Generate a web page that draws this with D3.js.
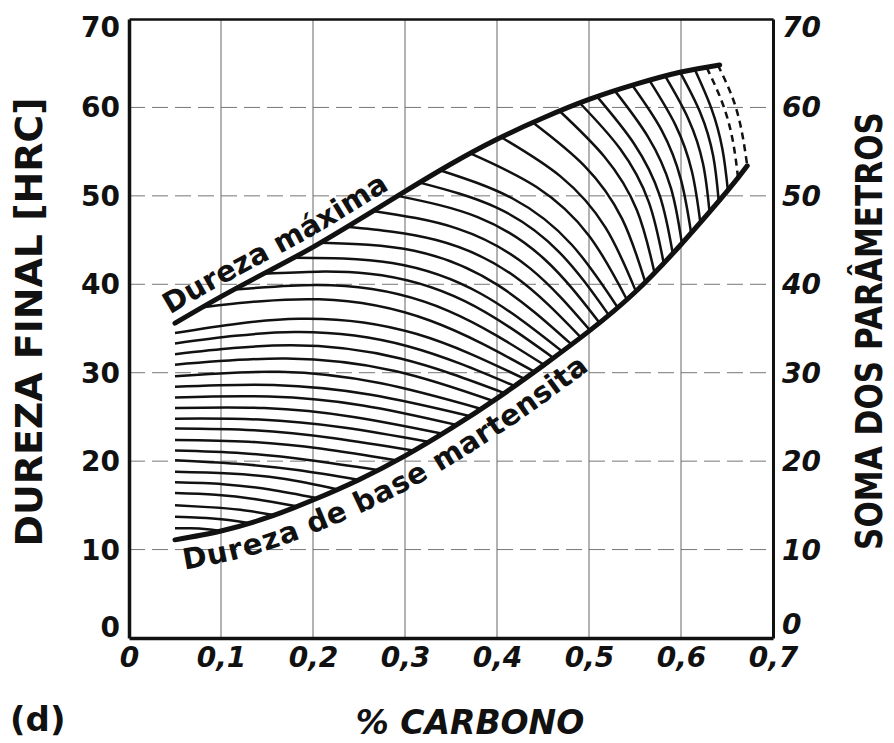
<!DOCTYPE html>
<html>
<head>
<meta charset="utf-8">
<script src="https://cdn.jsdelivr.net/npm/d3@7"></script>
<style>
  body { margin: 0; background: #fff; }
  svg text { font-family: "DejaVu Sans", sans-serif; font-weight: bold; fill: #111; }
</style>
</head>
<body>
<svg id="chart" width="894" height="743"></svg>
<script>
// tick values and labels
var xTicks = [0, 0.1, 0.2, 0.3, 0.4, 0.5, 0.6, 0.7];
var xTickLabels = ["0", "0,1", "0,2", "0,3", "0,4", "0,5", "0,6", "0,7"];
var yTicks = [0, 10, 20, 30, 40, 50, 60, 70];

// "Dureza máxima" boundary
var maxX = [0.05, 0.1, 0.15, 0.2, 0.25, 0.3, 0.35, 0.4, 0.45, 0.5, 0.55, 0.6, 0.642];
var maxY = [35.6, 38.6, 41.4, 44.2, 47.3, 50.5, 53.6, 56.4, 58.8, 60.9, 62.6, 64.0, 64.8];

// "Dureza de base martensita" boundary
var baseX = [0.05, 0.1, 0.15, 0.2, 0.25, 0.3, 0.35, 0.4, 0.45, 0.5, 0.55, 0.6, 0.65, 0.672];
var baseY = [11.1, 12.1, 13.6, 15.6, 17.9, 20.6, 23.7, 27.1, 30.8, 34.7, 39.1, 44.5, 50.5, 53.4];

// curves that start at the left edge (0,05 % C)
var leftCurves = [
  [[0.05, 12.4], [0.067, 12.4], [0.085, 12.3], [0.102, 12.1]],
  [[0.05, 13.7], [0.077, 13.6], [0.103, 13.4], [0.130, 13.0]],
  [[0.05, 15.0], [0.086, 14.8], [0.121, 14.5], [0.157, 13.9]],
  [[0.05, 16.4], [0.094, 16.2], [0.138, 15.7], [0.182, 14.9]],
  [[0.05, 17.6], [0.102, 17.4], [0.153, 16.8], [0.205, 15.8]],
  [[0.05, 18.8], [0.109, 18.6], [0.168, 18.0], [0.227, 16.8]],
  [[0.05, 20.1], [0.117, 19.7], [0.183, 19.0], [0.249, 17.9]],
  [[0.05, 21.2], [0.123, 20.9], [0.197, 20.1], [0.270, 19.0]],
  [[0.05, 22.4], [0.130, 22.2], [0.210, 21.4], [0.290, 20.1]],
  [[0.05, 23.7], [0.136, 23.5], [0.223, 22.6], [0.309, 21.2]],
  [[0.05, 24.8], [0.142, 24.7], [0.233, 23.8], [0.325, 22.2]],
  [[0.05, 26.0], [0.147, 26.0], [0.244, 25.0], [0.341, 23.1]],
  [[0.05, 27.2], [0.152, 27.3], [0.254, 26.3], [0.356, 24.1]],
  [[0.05, 28.4], [0.157, 28.6], [0.263, 27.5], [0.370, 25.1]],
  [[0.05, 29.6], [0.163, 30.1], [0.274, 28.8], [0.383, 25.9]],
  [[0.05, 30.9], [0.171, 31.6], [0.289, 30.2], [0.396, 26.8]],
  [[0.05, 32.1], [0.176, 33.1], [0.295, 31.6], [0.408, 27.7]],
  [[0.05, 33.3], [0.180, 34.6], [0.303, 33.0], [0.419, 28.5]],
  [[0.05, 34.5], [0.185, 36.1], [0.312, 34.4], [0.430, 29.3]]
];

// curves that start on the "Dureza máxima" line
var topCurves = [
  [[0.080, 37.4], [0.207, 38.3], [0.327, 35.9], [0.441, 30.1]],
  [[0.115, 39.4], [0.235, 39.8], [0.347, 37.0], [0.451, 30.9]],
  [[0.147, 41.2], [0.261, 41.2], [0.365, 38.1], [0.461, 31.7]],
  [[0.178, 43.0], [0.286, 42.4], [0.383, 38.9], [0.471, 32.4]],
  [[0.208, 44.7], [0.310, 43.8], [0.401, 39.9], [0.481, 33.2]],
  [[0.237, 46.5], [0.334, 45.0], [0.419, 40.9], [0.491, 34.0]],
  [[0.265, 48.3], [0.357, 46.3], [0.436, 41.8], [0.501, 34.8]],
  [[0.292, 50.0], [0.379, 47.6], [0.452, 42.8], [0.511, 35.7]],
  [[0.316, 51.5], [0.399, 48.7], [0.467, 43.7], [0.521, 36.6]],
  [[0.338, 52.9], [0.417, 49.7], [0.481, 44.5], [0.531, 37.4]],
  [[0.371, 54.8], [0.443, 51.0], [0.500, 45.5], [0.541, 38.3]],
  [[0.405, 56.6], [0.469, 52.2], [0.518, 46.4], [0.551, 39.2]],
  [[0.439, 58.3], [0.495, 53.4], [0.536, 47.4], [0.561, 40.3]],
  [[0.468, 59.6], [0.517, 54.4], [0.552, 48.4], [0.571, 41.4]],
  [[0.490, 60.5], [0.534, 55.3], [0.565, 49.3], [0.581, 42.5]],
  [[0.509, 61.2], [0.549, 55.9], [0.577, 50.0], [0.591, 43.5]],
  [[0.528, 61.9], [0.564, 56.7], [0.589, 50.9], [0.601, 44.6]],
  [[0.547, 62.5], [0.579, 57.4], [0.600, 51.8], [0.611, 45.8]],
  [[0.566, 63.0], [0.594, 58.0], [0.612, 52.7], [0.621, 47.0]],
  [[0.583, 63.5], [0.608, 58.7], [0.624, 53.6], [0.631, 48.2]],
  [[0.599, 64.0], [0.621, 59.4], [0.635, 54.5], [0.641, 49.4]],
  [[0.615, 64.3], [0.633, 59.9], [0.645, 55.3], [0.651, 50.6]],
  [[0.628, 64.5], [0.645, 60.5], [0.656, 56.4], [0.662, 52.1]],
  [[0.640, 64.8], [0.656, 61.1], [0.666, 57.3], [0.672, 53.4]]
];
var dashedFrom = 22; // last two top curves are dashed

var svg = d3.select("#chart");

var x = d3.scaleLinear().domain([0, 0.7]).range([129, 773]);
var y = d3.scaleLinear().domain([0, 70]).range([638, 19]);

// grid
svg.append("g").selectAll("line")
  .data(xTicks.slice(1, -1))
  .enter().append("line")
  .attr("x1", d => x(d)).attr("x2", d => x(d))
  .attr("y1", y(0)).attr("y2", y(70))
  .attr("stroke", "#555").attr("stroke-width", 0.9);

svg.append("g").selectAll("line")
  .data(yTicks.slice(1, -1))
  .enter().append("line")
  .attr("x1", x(0)).attr("x2", x(0.7))
  .attr("y1", d => y(d)).attr("y2", d => y(d))
  .attr("stroke", "#666").attr("stroke-width", 0.9)
  .attr("stroke-dasharray", "16,7");

// axes
var leftAxis = d3.axisLeft(y).tickValues(yTicks).tickSize(0).tickPadding(9);
var rightAxis = d3.axisRight(y).tickValues(yTicks).tickSize(0).tickPadding(9);
var bottomAxis = d3.axisBottom(x).tickValues(xTicks).tickSize(0).tickPadding(9)
  .tickFormat((d, i) => xTickLabels[i]);
var topAxis = d3.axisTop(x).tickValues([]).tickSize(0);

var gl = svg.append("g").attr("transform", `translate(${x(0)},0)`).call(leftAxis);
var gr = svg.append("g").attr("transform", `translate(${x(0.7)},0)`).call(rightAxis);
var gb = svg.append("g").attr("transform", `translate(0,${y(0)})`).call(bottomAxis);
var gt = svg.append("g").attr("transform", `translate(0,${y(70)})`).call(topAxis);

[gl, gr, gb, gt].forEach(function (g) {
  g.attr("font-family", null).attr("font-size", null);
  g.select(".domain").attr("stroke", "#111");
});
gl.select(".domain").attr("stroke-width", 3.5);
gb.select(".domain").attr("stroke-width", 3.5);
gr.select(".domain").attr("stroke-width", 3);
gt.select(".domain").attr("stroke-width", 2.5);

gl.selectAll("text").style("font-size", "28px").attr("fill", "#111")
  .attr("dy", d => d == 0 ? "-0.05em" : d == 70 ? "0.62em" : "0.34em");
gr.selectAll("text").style("font-size", "28px").style("font-style", "italic").attr("fill", "#111")
  .attr("dy", d => d == 0 ? "-0.15em" : d == 70 ? "0.62em" : "0.34em");
gb.selectAll("text").style("font-size", "28px").style("font-style", "italic").attr("fill", "#111");

// boundaries
var line = d3.line().x(d => x(d[0])).y(d => y(d[1])).curve(d3.curveNatural);
var maxPts = maxX.map((v, i) => [v, maxY[i]]);
var basePts = baseX.map((v, i) => [v, baseY[i]]);

// family of curves
var curves = leftCurves.concat(topCurves);
svg.append("g").selectAll("path")
  .data(curves)
  .enter().append("path")
  .attr("d", line)
  .attr("fill", "none")
  .attr("stroke", "#111")
  .attr("stroke-width", 2.5)
  .attr("stroke-dasharray", (d, i) => i >= leftCurves.length + dashedFrom ? "7,5" : null);

svg.append("path").attr("id", "maxPath").attr("d", line(maxPts))
  .attr("fill", "none").attr("stroke", "#111").attr("stroke-width", 5).attr("stroke-linecap", "round");
svg.append("path").attr("id", "basePath").attr("d", line(basePts))
  .attr("fill", "none").attr("stroke", "#111").attr("stroke-width", 5).attr("stroke-linecap", "round");

// curve labels
svg.append("text").style("font-size", "29px")
  .append("textPath").attr("href", "#maxPath").attr("startOffset", 0)
  .append("tspan").attr("dy", -10).text("Dureza máxima");

svg.append("text").style("font-size", "29px")
  .append("textPath").attr("href", "#basePath").attr("startOffset", 4)
  .append("tspan").attr("dy", 31).text("Dureza de base martensita");

// axis titles
svg.append("text")
  .attr("transform", "translate(42,322) rotate(-90)")
  .attr("text-anchor", "middle")
  .attr("textLength", 449).attr("lengthAdjust", "spacingAndGlyphs")
  .style("font-size", "37px")
  .text("DUREZA FINAL [HRC]");

svg.append("text")
  .attr("transform", "translate(882,331) rotate(-90)")
  .attr("text-anchor", "middle")
  .attr("textLength", 438).attr("lengthAdjust", "spacingAndGlyphs")
  .style("font-size", "38px")
  .text("SOMA DOS PARÂMETROS");

svg.append("text")
  .attr("x", 470).attr("y", 734)
  .attr("text-anchor", "middle")
  .style("font-size", "33px").style("font-style", "italic")
  .text("% CARBONO");

svg.append("text")
  .attr("x", 10).attr("y", 731)
  .style("font-size", "34px")
  .text("(d)");
</script>
</body>
</html>
